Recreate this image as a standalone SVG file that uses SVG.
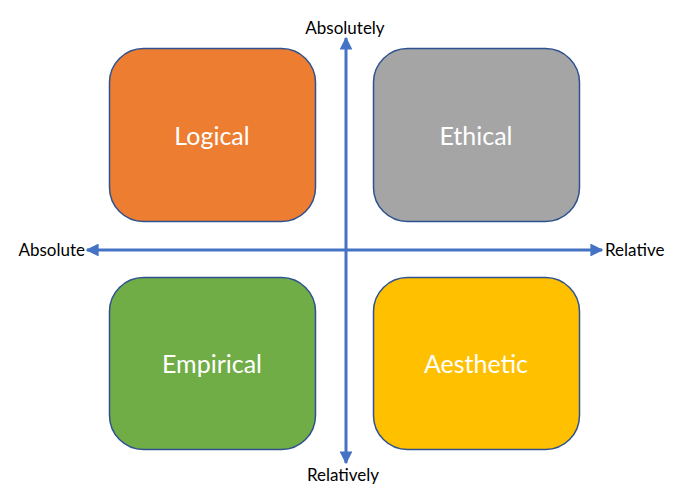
<svg xmlns="http://www.w3.org/2000/svg" width="700" height="498" viewBox="0 0 700 498">
<style>
.box{stroke:#2F528F;stroke-width:1.5}
.lbl{font-family:Lato,"Open Sans","Liberation Sans",sans-serif;font-size:25px;fill:#fff;text-anchor:middle}
.ax{font-family:Lato,"Open Sans","Liberation Sans",sans-serif;font-size:17px;fill:#000}
.axis{stroke:#4472C4;stroke-width:3;fill:none}
</style>
<defs>
<marker id="ah" viewBox="0 0 10 10" refX="9" refY="5" markerWidth="4.3" markerHeight="4.3" orient="auto" markerUnits="strokeWidth">
<path d="M0,0 L10,5 L0,10 z" fill="#4472C4"/>
</marker>
</defs>
<rect width="700" height="498" fill="#fff"/>
<g id="logical"><rect class="box" x="109.5" y="48.5" width="206" height="173" rx="34" fill="#ED7D31"/><text class="lbl" x="212" y="145">Logical</text></g>
<g id="ethical"><rect class="box" x="373.5" y="48.5" width="206" height="173" rx="34" fill="#A5A5A5"/><text class="lbl" x="476" y="145">Ethical</text></g>
<g id="empirical"><rect class="box" x="109.5" y="277.5" width="206" height="172" rx="34" fill="#70AD47"/><text class="lbl" x="212" y="373">Empirical</text></g>
<g id="aesthetic"><rect class="box" x="373.5" y="277.5" width="206" height="172" rx="34" fill="#FFC000"/><text class="lbl" x="476" y="373">Aesthetic</text></g>
<g id="connectors">
<line class="axis" x1="346" y1="250" x2="346" y2="38" marker-end="url(#ah)"/>
<line class="axis" x1="346" y1="250" x2="346" y2="463" marker-end="url(#ah)"/>
<line class="axis" x1="346" y1="250" x2="87" y2="250" marker-end="url(#ah)"/>
<line class="axis" x1="346" y1="250" x2="602" y2="250" marker-end="url(#ah)"/>
</g>
<text class="ax" x="345" y="34" text-anchor="middle">Absolutely</text>
<text class="ax" x="343" y="481" text-anchor="middle">Relatively</text>
<text class="ax" x="85" y="256" text-anchor="end">Absolute</text>
<text class="ax" x="605" y="256">Relative</text>
</svg>
